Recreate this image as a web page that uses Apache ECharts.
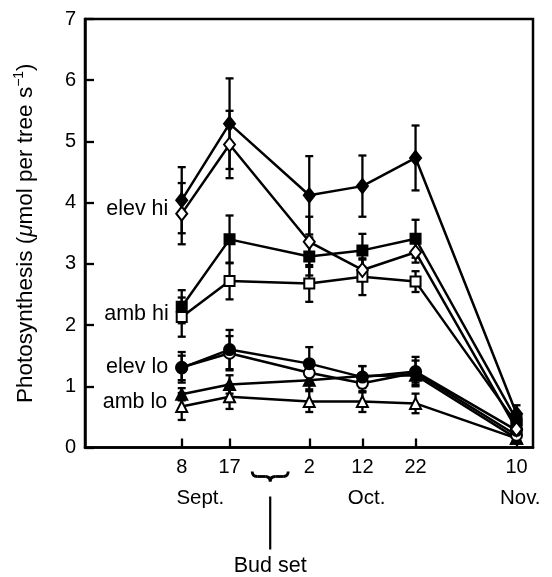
<!DOCTYPE html>
<html>
<head>
<meta charset="utf-8">
<script src="https://cdn.jsdelivr.net/npm/echarts@6/dist/echarts.min.js"></script>
<style>
html,body{margin:0;padding:0;background:#fff;}
#c{width:552px;height:577px;}
</style>
</head>
<body>
<div id="c"></div>
<script>
// Sampling dates as day counts from 1 Sept (Sept 8, Sept 17, Oct 2, Oct 12, Oct 22, Nov 10)
const days = [8, 17, 32, 42, 52, 71];
const dayLabels = ['8', '17', '2', '12', '22', '10'];
const monthPos = [11.5, 42.8, 71.7];
const monthLabels = ['Sept.', 'Oct.', 'Nov.'];
const yTicks = [0, 1, 2, 3, 4, 5, 6, 7];

const elevHiFilled = [4.04, 5.29, 4.12, 4.27, 4.73, 0.55];
const elevHiFilledErr = [0.54, 0.74, 0.64, 0.50, 0.53, 0.14];
const elevHiOpen = [3.82, 4.95, 3.36, 2.90, 3.19, 0.30];
const elevHiOpenErr = [0.50, 0.55, 0.41, 0.17, 0.17, 0.10];
const ambHiFilled = [2.30, 3.40, 3.12, 3.22, 3.41, 0.45];
const ambHiFilledErr = [0.27, 0.39, 0.31, 0.27, 0.31, 0.12];
const ambHiOpen = [2.13, 2.72, 2.68, 2.79, 2.71, 0.39];
const ambHiOpenErr = [0.32, 0.30, 0.30, 0.30, 0.17, 0.10];
const elevLoFilled = [1.30, 1.60, 1.37, 1.15, 1.24, 0.28];
const elevLoFilledErr = [0.20, 0.32, 0.27, 0.18, 0.24, 0.10];
const elevLoOpen = [1.31, 1.54, 1.22, 1.05, 1.22, 0.20];
const elevLoOpenErr = [0.25, 0.28, 0.20, 0.15, 0.20, 0.08];
const ambLoFilled = [0.87, 1.03, 1.10, 1.17, 1.18, 0.15];
const ambLoFilledErr = [0.10, 0.15, 0.15, 0.16, 0.12, 0.05];
const ambLoOpen = [0.67, 0.83, 0.75, 0.75, 0.72, 0.15];
const ambLoOpenErr = [0.22, 0.20, 0.17, 0.17, 0.16, 0.05];

const budSetDay = 24.65;
const groupLabels = ['elev hi', 'amb hi', 'elev lo', 'amb lo'];

const FONT = '"Liberation Sans", Arial, Helvetica, sans-serif';

const seriesDefs = [
  {vals: ambLoOpen, err: ambLoOpenErr, symbol: 'triangle', size: 11, filled: false, label: groupLabels[3], off: [-2, -4]},
  {vals: ambLoFilled, err: ambLoFilledErr, symbol: 'triangle', size: 11, filled: true},
  {vals: elevLoOpen, err: elevLoOpenErr, symbol: 'circle', size: 11, filled: false, label: groupLabels[2], off: [-1, 0]},
  {vals: elevLoFilled, err: elevLoFilledErr, symbol: 'circle', size: 11, filled: true},
  {vals: ambHiOpen, err: ambHiOpenErr, symbol: 'rect', size: 10, filled: false, label: groupLabels[1], off: [-1, -3]},
  {vals: ambHiFilled, err: ambHiFilledErr, symbol: 'rect', size: 10, filled: true},
  {vals: elevHiOpen, err: elevHiOpenErr, symbol: 'diamond', size: [11, 14], filled: false, label: groupLabels[0], off: [-1, -5]},
  {vals: elevHiFilled, err: elevHiFilledErr, symbol: 'diamond', size: [11, 14], filled: true}
];

const series = [];
seriesDefs.forEach(function (s) {
  series.push({
    type: 'custom',
    z: 1,
    silent: true,
    data: days.map(function (d, i) { return [d, s.vals[i], s.err[i]]; }),
    renderItem: function (params, api) {
      const x = api.coord([api.value(0), api.value(1)])[0];
      const top = api.coord([api.value(0), api.value(1) + api.value(2)])[1];
      const bot = api.coord([api.value(0), api.value(1) - api.value(2)])[1];
      const cw = 4;
      const st = {stroke: '#000', lineWidth: 2.3};
      return {
        type: 'group',
        children: [
          {type: 'line', shape: {x1: x, y1: top, x2: x, y2: bot}, style: st},
          {type: 'line', shape: {x1: x - cw, y1: top, x2: x + cw, y2: top}, style: st},
          {type: 'line', shape: {x1: x - cw, y1: bot, x2: x + cw, y2: bot}, style: st}
        ]
      };
    }
  });
});
seriesDefs.forEach(function (s) {
  series.push({
    type: 'line',
    z: 3,
    symbol: s.symbol,
    symbolSize: s.size,
    showAllSymbol: true,
    lineStyle: {color: '#000', width: 2.5},
    itemStyle: {color: s.filled ? '#000' : '#fff', borderColor: '#000', borderWidth: 2},
    data: days.map(function (d, i) {
      const item = {value: [d, s.vals[i]]};
      if (i === 0 && s.label) {
        item.label = {
          show: true, formatter: s.label, position: 'left', distance: 6, offset: s.off,
          fontSize: 21.5, color: '#000', fontFamily: FONT
        };
      }
      return item;
    })
  });
});

const chart = echarts.init(document.getElementById('c'), null, {renderer: 'canvas'});
const option = {
  animation: false,
  backgroundColor: '#fff',
  grid: {left: 85, right: 19, top: 19, bottom: 129.5, show: true, borderColor: '#000', borderWidth: 2.5},
  xAxis: [{
    type: 'value', min: -10.2, max: 74.1,
    axisLine: {show: true, onZero: false, lineStyle: {color: '#000', width: 2.5}},
    axisTick: {show: true, inside: true, length: 9, customValues: days, lineStyle: {color: '#000', width: 2.3}},
    axisLabel: {customValues: days, formatter: function (v) { return dayLabels[days.indexOf(v)]; },
      fontSize: 20, color: '#000', margin: 10, fontFamily: FONT},
    splitLine: {show: false}
  }, {
    type: 'value', min: -10.2, max: 74.1, position: 'bottom',
    axisLine: {show: false, onZero: false}, axisTick: {show: false},
    axisLabel: {customValues: monthPos, formatter: function (v) { return monthLabels[monthPos.indexOf(v)]; },
      fontSize: 20.5, color: '#000', margin: 40, fontFamily: FONT},
    splitLine: {show: false}
  }],
  yAxis: {
    type: 'value', min: 0, max: 7, interval: 1,
    axisLine: {show: true, onZero: false, lineStyle: {color: '#000', width: 2.5}},
    axisTick: {show: true, inside: true, length: 9, lineStyle: {color: '#000', width: 2.3}},
    axisLabel: {fontSize: 20, color: '#000', margin: 9, fontFamily: FONT,
      formatter: function (v) { return yTicks.indexOf(v) >= 0 ? String(v) : ''; }},
    splitLine: {show: false},
    name: '{a|Photosynthesis (}{b|\u03bc}{a|mol per tree s}{s|\u22121}{a|)}',
    nameLocation: 'middle', nameGap: 46,
    nameTextStyle: {
      color: '#000', fontSize: 22.5, fontFamily: FONT,
      rich: {
        a: {fontSize: 22.5, color: '#000', fontFamily: FONT, lineHeight: 27},
        b: {fontSize: 22.5, color: '#000', fontFamily: FONT, fontStyle: 'italic', lineHeight: 27},
        s: {fontSize: 14, color: '#000', fontFamily: FONT, verticalAlign: 'top', lineHeight: 27}
      }
    }
  },
  series: series
};
chart.setOption(option);

const cx = chart.convertToPixel({xAxisIndex: 0}, budSetDay);
const yb = chart.convertToPixel({yAxisIndex: 0}, 0);
const y0 = yb + 24;
const hw = 18;
const bst = {stroke: '#000', lineWidth: 2.8, fill: null};
chart.setOption({
  graphic: [
    {type: 'bezierCurve', shape: {x1: cx - hw, y1: y0, cpx1: cx - hw, cpy1: y0 + 5, x2: cx - hw + 5, y2: y0 + 5}, style: bst},
    {type: 'line', shape: {x1: cx - hw + 5, y1: y0 + 5, x2: cx - 5, y2: y0 + 5}, style: bst},
    {type: 'bezierCurve', shape: {x1: cx - 5, y1: y0 + 5, cpx1: cx, cpy1: y0 + 5, x2: cx, y2: y0 + 10}, style: bst},
    {type: 'bezierCurve', shape: {x1: cx, y1: y0 + 10, cpx1: cx, cpy1: y0 + 5, x2: cx + 5, y2: y0 + 5}, style: bst},
    {type: 'line', shape: {x1: cx + 5, y1: y0 + 5, x2: cx + hw - 5, y2: y0 + 5}, style: bst},
    {type: 'bezierCurve', shape: {x1: cx + hw - 5, y1: y0 + 5, cpx1: cx + hw, cpy1: y0 + 5, x2: cx + hw, y2: y0}, style: bst},
    {type: 'line', shape: {x1: cx, y1: y0 + 25, x2: cx, y2: y0 + 78}, style: {stroke: '#000', lineWidth: 2.2}},
    {type: 'text', x: cx, y: y0 + 95, style: {text: 'Bud set', fontSize: 21.5, fontFamily: FONT, fill: '#000', align: 'center', verticalAlign: 'middle'}}
  ]
});
</script>
</body>
</html>
